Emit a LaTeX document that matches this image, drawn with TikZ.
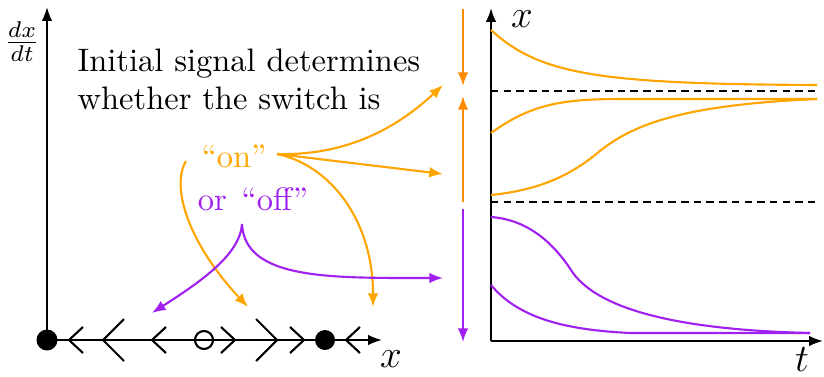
\documentclass[tikz,border=0pt]{standalone}
\usetikzlibrary{arrows.meta}
\definecolor{onc}{HTML}{FFA500}
\definecolor{ondark}{HTML}{FF8C00}
\definecolor{offc}{HTML}{A020F0}
\begin{document}
\begin{tikzpicture}[x=0.3077pt,y=-0.3077pt,
  ax/.style={line width=0.65pt,-{Latex[length=4.3pt,width=3.3pt]}},
  sig/.style={line width=0.65pt,-{Latex[length=4.2pt,width=3.3pt]}},
  traj/.style={line width=0.65pt},
  chev/.style={line width=0.65pt},
  lbl/.style={inner sep=0pt}]
\useasboundingbox (0,0) rectangle (824,376);
% ---------- left: phase line ----------
\coordinate (O1) at (47,340);
\coordinate (Ytip) at (47,7);
\coordinate (Xtip) at (382,340);
\draw[ax] (O1) -- (Ytip);
\draw[ax] (O1) -- (Xtip);
\node[lbl] (dxdt) at (22,42) {$\frac{dx}{dt}$};
\node[lbl] (xlab) at (391,359) {\large $x$};
% chevrons
\draw[chev] (83,327) -- (69,340) -- (83,353);
\draw[chev] (124,319) -- (103,340) -- (124,361);
\draw[chev] (166,327) -- (152,340) -- (166,353);
\draw[chev] (221,327) -- (235,340) -- (221,353);
\draw[chev] (256,319) -- (277,340) -- (256,361);
\draw[chev] (290,327) -- (304,340) -- (290,353);
\draw[chev] (360,327) -- (346,340) -- (360,353);
% fixed points
\fill (O1) circle (10.5);
\fill (325,340) circle (10);
\draw[chev] (204,340) circle (9);
% ---------- text ----------
\node[lbl,anchor=base west] (t1) at (77,72) {Initial signal determines};
\node[lbl,anchor=base west] (t2) at (77,110) {whether the switch is};
\node[lbl,anchor=base,text=onc] (on) at (234,167) {``on''};
\node[lbl,anchor=base,text=offc] (off) at (253,210) {or\hspace{4.5pt}``off''};
\coordinate (onR) at (277,154);
\coordinate (onL) at (186,161);
\coordinate (offB) at (242,224);
% ---------- right: time courses ----------
\coordinate (O2) at (491,341);
\draw[ax] (O2) -- (491,8) coordinate (Y2tip);
\draw[ax] (O2) -- (823,341) coordinate (X2tip);
\node[lbl] (x2lab) at (522,19) {\large $x$};
\node[lbl] (tlab) at (802,360) {\large $t$};
\draw[line width=0.65pt,dash pattern=on 2.3pt off 1.6pt] (491,91) -- (817,91);
\draw[line width=0.65pt,dash pattern=on 2.3pt off 1.6pt] (491,202) -- (817,202);
% vertical phase arrows
\coordinate (vA) at (463,9);   \coordinate (vAt) at (463,86);
\coordinate (vB) at (463,202); \coordinate (vBt) at (463,96);
\coordinate (vC) at (463,209); \coordinate (vCt) at (463,342);
\draw[sig,ondark] (vA) -- (vAt);
\draw[sig,ondark] (vB) -- (vBt);
\draw[sig,offc] (vC) -- (vCt);
% trajectories
\draw[traj,onc] (491,30) .. controls (540,75) and (600,84) .. (817,85);
\draw[traj,onc] (491,133) .. controls (530,105) and (560,99) .. (620,99) -- (817,99);
\draw[traj,onc] (491,195) .. controls (540,190) and (570,175) .. (595,155)
   .. controls (630,125) and (680,105) .. (817,99);
\draw[traj,offc] (491,217) .. controls (530,220) and (555,245) .. (573,273)
   .. controls (600,310) and (680,330) .. (810,333);
\draw[traj,offc] (491,285) .. controls (520,320) and (570,330) .. (630,333) -- (810,333);
% ---------- signal arrows ----------
\coordinate (e1) at (443,85);
\coordinate (e2) at (443,174);
\coordinate (e3) at (373,307);
\coordinate (e4) at (248,307);
\coordinate (e5) at (152,313);
\coordinate (e6) at (443,278);
\draw[sig,onc] (onR) .. controls (350,156) and (400,125) .. (e1);
\draw[sig,onc] (onR) -- (e2);
\draw[sig,onc] (onR) .. controls (330,165) and (373,220) .. (e3);
\draw[sig,onc] (onL) .. controls (170,188) and (190,245) .. (e4);
\draw[sig,offc] (offB) .. controls (240,255) and (200,282) .. (e5);
\draw[sig,offc] (offB) .. controls (245,280) and (330,278) .. (e6);
\end{tikzpicture}
\end{document}
